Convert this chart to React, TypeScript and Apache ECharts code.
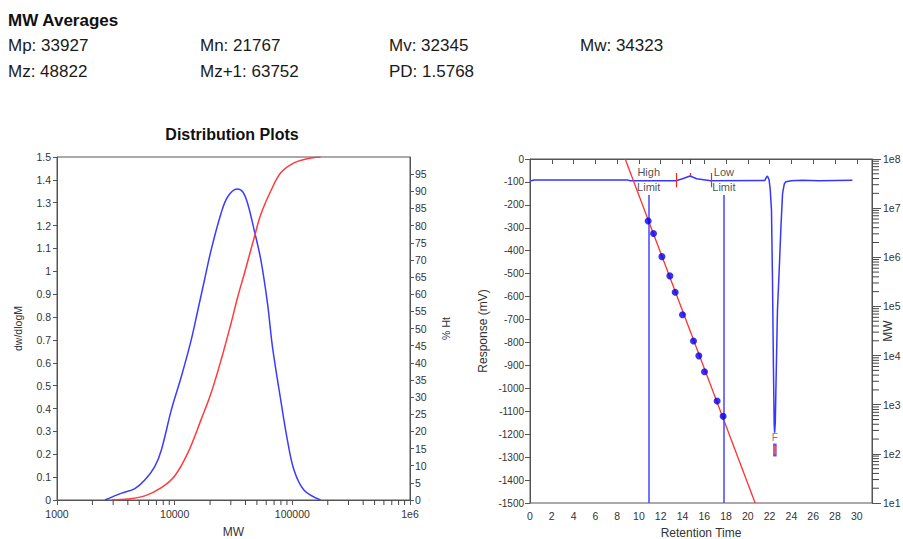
import React, { useEffect, useRef } from 'react';
import * as echarts from 'echarts';

const FONT = '"Liberation Sans", Arial, Helvetica, sans-serif';

// Molecular weight averages
const avgNames = ['Mp', 'Mn', 'Mv', 'Mw', 'Mz', 'Mz+1', 'PD'];
const avgValues = ['33927', '21767', '32345', '34323', '48822', '63752', '1.5768'];

// Differential distribution (dw/dlogM vs MW)
const distMW = [2559, 3540, 4590, 5570, 6770, 7710, 9370, 11380, 13830, 15750, 17920, 20400, 24800, 28250, 33927, 37830, 41690, 47400, 54000, 61500, 67800, 79700, 90800, 103300, 125400, 173500];
const distWt = [0, 0.03, 0.05, 0.087, 0.146, 0.219, 0.394, 0.539, 0.7, 0.831, 0.962, 1.093, 1.254, 1.326, 1.36, 1.348, 1.297, 1.18, 1.05, 0.86, 0.67, 0.437, 0.262, 0.131, 0.044, 0];

// Cumulative distribution (% Ht vs MW)
const cumMW = [2915, 4036, 5570, 7710, 10000, 12970, 16800, 20400, 24800, 30130, 34330, 39020, 47400, 54000, 65600, 79700, 103300, 134000, 173500];
const cumPct = [0, 0.3, 1.2, 3.6, 7.0, 13.8, 23.5, 31.2, 40.8, 51.5, 59.2, 65.9, 76.5, 83.3, 90.1, 95.4, 98.3, 99.5, 100];

// Detector trace (mV vs retention time, min)
const chromTime = [0, 0.4, 9.0, 9.2, 13.4, 14.0, 14.7, 15.3, 16.6, 21.55, 21.7, 21.8, 21.95, 22.05, 22.17, 22.26, 22.35, 22.42, 22.46, 22.52, 22.57, 22.72, 22.88, 23.04, 23.19, 23.35, 23.49, 24.0, 25.0, 26.5, 28.0, 29.6];
const chromMv = [-96, -92, -92, -95, -95, -86, -74, -86, -95, -94, -80, -74, -90, -130, -222, -513, -906, -1160, -1193, -1150, -1022, -659, -484, -295, -150, -108, -99, -95, -93, -95, -94, -93];

// Calibration standards (retention time vs MW) and fitted line
const calTime = [10.85, 11.34, 12.11, 12.84, 13.33, 14.0, 15.01, 15.5, 16.02, 17.18, 17.73];
const calMW = [5480000, 3040000, 1030000, 418000, 194000, 67500, 19760, 9860, 4680, 1190, 580];
const fitTime = [8.74, 20.67];
const fitMW = [1e8, 1e1];

// Integration limits and peak markers
const limitTime = [10.9, 17.8];
const limitNames = ['High\nLimit', 'Low\nLimit'];
const peakBounds = [13.4, 16.6];
const peakApex = 14.7;
const peakTag = 14.75;
const flowTime = 22.48;

const RT_MAX = 31.4;

// log-axis minor tick positions (2..9 within each decade)
function minorTicks(fromExp: number, toExp: number): number[] {
  const out: number[] = [];
  for (let e = fromExp; e < toExp; e++) {
    for (let k = 2; k <= 9; k++) out.push(k * Math.pow(10, e));
  }
  return out;
}

const axisBase = {
  axisLine: { lineStyle: { color: '#555', width: 1 } },
  axisTick: { length: 4, lineStyle: { color: '#555' } },
  splitLine: { show: false },
  nameTextStyle: { color: '#333', fontFamily: FONT, fontSize: 12 },
};

const plain = (v: number) => String(Math.round(v * 1000) / 1000);

export default function App() {
  const ref = useRef<HTMLDivElement>(null);

  useEffect(() => {
    if (!ref.current) return;
    const chart = echarts.init(ref.current, undefined, { renderer: 'svg' });

    const colX = [8, 200, 389, 580];
    const rowY = [45, 71.5];
    const headerTexts = avgNames.map((n, i) => ({
      type: 'text',
      x: colX[i % 4],
      y: rowY[Math.floor(i / 4)],
      style: { text: `${n}: ${avgValues[i]}`, font: `17px ${FONT}`, fill: '#1a1a1a', verticalAlign: 'middle' },
    }));

    const tickRender = (dir: 'down' | 'right', len: number) => (params: any, api: any) => {
      const p = api.coord([api.value(0), api.value(1)]);
      const x2 = dir === 'right' ? p[0] + len : p[0];
      const y2 = dir === 'down' ? p[1] + len : p[1];
      return { type: 'line', shape: { x1: p[0], y1: p[1], x2, y2 }, style: { stroke: '#444', lineWidth: 1 } };
    };

    const option: any = {
      animation: false,
      backgroundColor: '#fff',
      textStyle: { fontFamily: FONT },
      graphic: [
        { type: 'text', x: 8, y: 20.5, style: { text: 'MW Averages', font: `bold 17px ${FONT}`, fill: '#111', verticalAlign: 'middle' } },
        ...headerTexts,
        { type: 'text', x: 232, y: 134, style: { text: 'Distribution Plots', font: `bold 16px ${FONT}`, fill: '#111', align: 'center', verticalAlign: 'middle' } },
      ],
      grid: [
        { left: 57, top: 157, width: 353, height: 343, show: true, borderColor: '#555', borderWidth: 1, backgroundColor: 'transparent', containLabel: false, outerBoundsMode: 'none' },
        { left: 530, top: 159, width: 342, height: 344, show: true, borderColor: '#555', borderWidth: 1, backgroundColor: 'transparent', containLabel: false, outerBoundsMode: 'none' },
      ],
      xAxis: [
        {
          ...axisBase, gridIndex: 0, type: 'log', logBase: 10, min: 1000, max: 1e6,
          axisLabel: { color: '#333', fontFamily: FONT, fontSize: 10.5, margin: 8, formatter: (v: number) => (Math.round(v) >= 1e6 ? '1e6' : String(Math.round(v))) },
          axisTick: { length: 5, lineStyle: { color: '#555' } },
          name: 'MW', nameLocation: 'middle', nameGap: 26,
        },
        {
          ...axisBase, gridIndex: 1, type: 'value', min: 0, max: RT_MAX, interval: 2,
          axisLabel: { color: '#333', fontFamily: FONT, fontSize: 10.5, margin: 7, showMaxLabel: false, formatter: plain },
          axisTick: { length: 5, lineStyle: { color: '#555' } },
          name: 'Retention Time', nameLocation: 'middle', nameGap: 24,
        },
      ],
      yAxis: [
        {
          ...axisBase, gridIndex: 0, type: 'value', min: 0, max: 1.5, interval: 0.1, position: 'left',
          axisLabel: { color: '#333', fontFamily: FONT, fontSize: 10.5, margin: 6, formatter: plain },
          name: 'dw/dlogM', nameLocation: 'middle', nameGap: 34, nameRotate: 90,
          nameTextStyle: { color: '#333', fontFamily: FONT, fontSize: 10.5 },
        },
        {
          ...axisBase, gridIndex: 0, type: 'value', min: 0, max: 100, interval: 5, position: 'right',
          axisLabel: { color: '#333', fontFamily: FONT, fontSize: 10.5, margin: 5, showMaxLabel: false, formatter: plain },
          name: '% Ht', nameLocation: 'middle', nameGap: 30, nameRotate: 90, nameMoveOverlap: false,
          nameTextStyle: { color: '#333', fontFamily: FONT, fontSize: 10.5 },
        },
        {
          ...axisBase, gridIndex: 1, type: 'value', min: -1500, max: 0, interval: 100, position: 'left',
          axisLabel: { color: '#333', fontFamily: FONT, fontSize: 10, margin: 6, formatter: plain },
          axisTick: { length: 5, lineStyle: { color: '#555' } },
          name: 'Response (mV)', nameLocation: 'middle', nameGap: 41, nameRotate: 90,
        },
        {
          ...axisBase, gridIndex: 1, type: 'log', logBase: 10, min: 10, max: 1e8, position: 'right',
          axisLabel: { color: '#333', fontFamily: FONT, fontSize: 10.5, margin: 11, formatter: (v: number) => '1e' + Math.round(Math.log10(v)) },
          axisTick: { length: 9, lineStyle: { color: '#555' } },
          name: 'MW', nameLocation: 'middle', nameGap: 10, nameRotate: 90, nameMoveOverlap: false,
        },
      ],
      series: [
        {
          name: 'dw/dlogM', type: 'line', xAxisIndex: 0, yAxisIndex: 0,
          data: distMW.map((m, i) => [m, distWt[i]]),
          showSymbol: false, smooth: 0.35,
          lineStyle: { color: '#3b3bff', width: 1.5 }, itemStyle: { color: '#3b3bff' },
        },
        {
          name: '% Ht', type: 'line', xAxisIndex: 0, yAxisIndex: 1,
          data: cumMW.map((m, i) => [m, cumPct[i]]),
          showSymbol: false, smooth: 0.35,
          lineStyle: { color: '#ff3b3b', width: 1.5 }, itemStyle: { color: '#ff3b3b' },
        },
        {
          name: 'mw-minor', type: 'custom', coordinateSystem: 'cartesian2d', xAxisIndex: 0, yAxisIndex: 0, silent: true, clip: false, z: 10,
          data: minorTicks(3, 6).map((v) => [v, 0]),
          renderItem: tickRender('down', 5),
        },
        {
          name: 'Trace', type: 'line', xAxisIndex: 1, yAxisIndex: 2,
          data: chromTime.map((t, i) => [t, chromMv[i]]),
          showSymbol: false,
          lineStyle: { color: '#3636ff', width: 1.5 }, itemStyle: { color: '#3636ff' },
          markLine: {
            silent: true, symbol: ['none', 'none'], label: { show: false },
            data: [
              ...limitTime.map((t) => [
                { coord: [t, -157], lineStyle: { color: '#5050ff', width: 1.6, type: 'solid' } },
                { coord: [t, -1500] },
              ]),
              ...peakBounds.map((t) => [
                { coord: [t, -61], lineStyle: { color: '#ff2020', width: 1.2, type: 'solid' } },
                { coord: [t, -123] },
              ]),
              [
                { coord: [peakApex, -61], lineStyle: { color: '#ff2020', width: 1.2, type: 'solid' } },
                { coord: [peakApex, -74] },
              ],
              [
                { coord: [peakTag, 0], lineStyle: { color: '#444', width: 1, type: 'solid' } },
                { coord: [peakTag, -22] },
              ],
            ],
          },
        },
        {
          name: 'Limits', type: 'scatter', xAxisIndex: 1, yAxisIndex: 2, silent: true,
          data: limitTime.map((t, i) => ({ value: [t, -88], name: limitNames[i] })),
          symbolSize: 1, itemStyle: { color: 'rgba(0,0,0,0)' },
          label: { show: true, position: 'inside', formatter: '{b}', fontFamily: FONT, fontSize: 11, lineHeight: 15, color: '#222' },
        },
        {
          name: 'Fit', type: 'line', xAxisIndex: 1, yAxisIndex: 3,
          data: fitTime.map((t, i) => [t, fitMW[i]]),
          showSymbol: false,
          lineStyle: { color: '#ff3030', width: 1.3 }, itemStyle: { color: '#ff3030' },
        },
        {
          name: 'Standards', type: 'scatter', xAxisIndex: 1, yAxisIndex: 3,
          data: calTime.map((t, i) => [t, calMW[i]]),
          symbolSize: 7, itemStyle: { color: '#0000ee' }, z: 5,
        },
        {
          name: 'Flow', type: 'scatter', xAxisIndex: 1, yAxisIndex: 2, silent: true,
          data: [{ value: [flowTime, -1269], name: 'F' }],
          symbol: 'rect', symbolSize: [3, 11],
          itemStyle: { color: '#e02848', borderColor: '#3b3bff', borderWidth: 1 },
          label: { show: true, position: 'top', distance: 1, formatter: '{b}', fontFamily: FONT, fontSize: 10, color: '#555' },
        },
        {
          name: 'rmw-minor', type: 'custom', coordinateSystem: 'cartesian2d', xAxisIndex: 1, yAxisIndex: 3, silent: true, clip: false, z: 10,
          data: minorTicks(1, 8).map((v) => [RT_MAX, v]),
          renderItem: tickRender('right', 7),
        },
      ],
    };

    chart.setOption(option);
    return () => chart.dispose();
  }, []);

  return <div ref={ref} style={{ position: 'fixed', left: 0, top: 0, width: 903, height: 539, background: '#fff' }} />;
}
